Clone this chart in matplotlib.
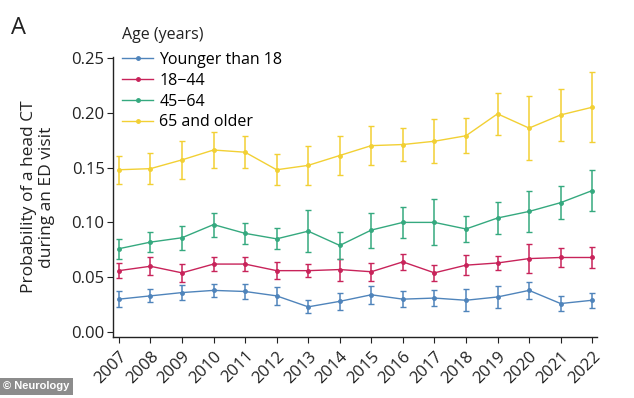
import matplotlib
matplotlib.use("Agg")
import matplotlib.pyplot as plt
from matplotlib.lines import Line2D
import numpy as np

plt.rcParams['font.family'] = ['Open Sans', 'DejaVu Sans']

years = list(range(2007, 2023))
groups = ["Younger than 18", "18\u221244", "45\u221264", "65 and older"]
colors = ["#4f84bb", "#c8235a", "#35a97f", "#f2d034"]

under18 = [0.030, 0.033, 0.036, 0.038, 0.037, 0.033, 0.023, 0.028, 0.034, 0.030, 0.031, 0.029, 0.032, 0.038, 0.026, 0.029]
under18_err = [0.007, 0.006, 0.007, 0.006, 0.007, 0.008, 0.006, 0.008, 0.008, 0.007, 0.007, 0.010, 0.010, 0.008, 0.007, 0.007]
a18_44 = [0.056, 0.060, 0.054, 0.062, 0.062, 0.056, 0.056, 0.057, 0.055, 0.064, 0.054, 0.061, 0.063, 0.067, 0.068, 0.068]
a18_44_err = [0.007, 0.008, 0.008, 0.006, 0.006, 0.008, 0.006, 0.010, 0.008, 0.007, 0.0075, 0.009, 0.006, 0.013, 0.009, 0.010]
a45_64 = [0.076, 0.082, 0.086, 0.098, 0.090, 0.085, 0.092, 0.079, 0.093, 0.100, 0.100, 0.094, 0.104, 0.110, 0.118, 0.129]
a45_64_err = [0.009, 0.009, 0.011, 0.011, 0.0095, 0.0097, 0.019, 0.012, 0.016, 0.014, 0.021, 0.012, 0.015, 0.019, 0.015, 0.019]
a65 = [0.148, 0.149, 0.157, 0.166, 0.164, 0.148, 0.152, 0.161, 0.170, 0.171, 0.174, 0.179, 0.199, 0.186, 0.198, 0.205]
a65_err = [0.013, 0.014, 0.017, 0.016, 0.0145, 0.014, 0.018, 0.018, 0.018, 0.015, 0.020, 0.016, 0.019, 0.029, 0.024, 0.032]

series = [(under18, under18_err), (a18_44, a18_44_err), (a45_64, a45_64_err), (a65, a65_err)]

fig = plt.figure(figsize=(6.34, 3.98), dpi=100)
ax = fig.add_axes([0.178, 0.153, 0.764, 0.704])

handles = []
for (vals, errs), name, c in zip(series, groups, colors):
    ax.errorbar(years, vals, yerr=errs, color=c, lw=1.0, marker='o', ms=2.5,
                elinewidth=1.1, capsize=2.5, capthick=1.0)
    handles.append(Line2D([], [], color=c, lw=1.0, marker='o', ms=2.5, label=name))

ax.set_xlim(2006.81, 2022.16)
ax.set_ylim(-0.0046, 0.2509)
ax.set_xticks(years)
ax.set_xticklabels([str(y) for y in years], rotation=45, ha='right', rotation_mode='anchor', fontsize=12)
ax.set_yticks([0.0, 0.05, 0.10, 0.15, 0.20, 0.25])
ax.set_yticklabels(["0.00", "0.05", "0.10", "0.15", "0.20", "0.25"], fontsize=12)
ax.tick_params(axis='both', direction='out', length=4, width=0.8, colors='#222222', pad=2)
ax.tick_params(axis='x', pad=4)
for s in ['top', 'right']:
    ax.spines[s].set_visible(False)
for s in ['left', 'bottom']:
    ax.spines[s].set_color('#222222')
    ax.spines[s].set_linewidth(1.0)

ax.set_ylabel("Probability of a head CT\nduring an ED visit", fontsize=12.5, color='#222222',
              labelpad=12, linespacing=1.1)

leg = ax.legend(handles=handles, loc='upper left', bbox_to_anchor=(0.0, 1.052),
                frameon=False, fontsize=11.5, handlelength=1.9,
                handletextpad=0.4, labelspacing=0.3, borderaxespad=0.2)

fig.text(0.192, 0.911, "Age (years)", fontsize=11.5, color='#222222', va='center')
fig.text(0.018, 0.915, "A", fontsize=17, color='#222222')
fig.text(0.005, 0.022, "\u00a9 Neurology", fontsize=8, color='white', fontweight='bold',
         family=['Liberation Sans', 'DejaVu Sans'],
         bbox=dict(facecolor='#8c8c8c', edgecolor='none', pad=2.5))

fig.savefig("out.png", dpi=100)
